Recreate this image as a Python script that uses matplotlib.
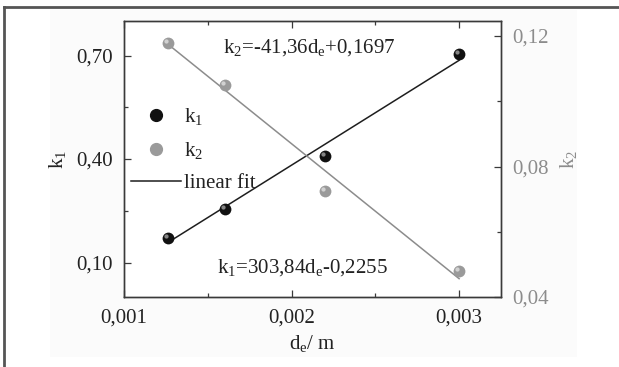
import matplotlib
matplotlib.use('Agg')
import matplotlib.pyplot as plt
import matplotlib.transforms as mtransforms
from matplotlib.lines import Line2D
from matplotlib.patches import Rectangle
from matplotlib.ticker import FuncFormatter, MultipleLocator
import numpy as np

plt.rcParams['font.family'] = ['Liberation Serif', 'DejaVu Serif']
plt.rcParams['mathtext.fontset'] = 'custom'
plt.rcParams['mathtext.rm'] = 'Liberation Serif'
plt.rcParams['mathtext.it'] = 'Liberation Serif:italic'

# data
de = [0.00126, 0.00160, 0.00220, 0.00300]
k1 = [0.172, 0.256, 0.410, 0.705]
k2 = [0.118, 0.105, 0.0726, 0.048]

# linear fit coefficients (as printed on the chart)
k1_fit = (303.84, -0.2255)
k2_fit = (-41.36, 0.1697)

TXT = '#222222'
GRAY = '#8c8c8c'
SPINE = '#3a3a3a'
FS = 15
MS = 8.5


def comma_fmt(nd):
    return FuncFormatter(lambda v, p: ('{:.%df}' % nd).format(v).replace('.', ','))


def sphere(ax, x, y, base, shine, ms):
    ax.plot(x, y, 'o', color=base, markersize=ms, markeredgewidth=0, zorder=4)
    tr = mtransforms.offset_copy(ax.transData, fig=ax.figure, x=-1.8, y=1.8, units='dots')
    ax.plot(x, y, 'o', color=shine, markersize=ms * 0.36, markeredgewidth=0,
            transform=tr, zorder=5, alpha=0.85)


fig = plt.figure(figsize=(6.19, 3.67), dpi=100)

# faint page background and cropped frame
fig.patches.append(Rectangle((50 / 619, 10 / 367), 527 / 619, 347 / 367, transform=fig.transFigure,
                             facecolor='#fbfbfb', edgecolor='none', zorder=-10))
fig.lines.append(Line2D([4 / 619, 4 / 619], [0, 1 - 7 / 367], transform=fig.transFigure,
                        color='#555555', lw=2))
fig.lines.append(Line2D([4 / 619, 1], [1 - 7 / 367, 1 - 7 / 367], transform=fig.transFigure,
                        color='#555555', lw=2))

ax = fig.add_axes([124 / 619, 70 / 367, 377 / 619, 276 / 367])
ax.set_facecolor('white')
ax2 = ax.twinx()

xs = np.array([de[0], de[-1]])
ax.plot(xs, k1_fit[0] * xs + k1_fit[1], color='#1e1e1e', lw=1.1, zorder=3)
ax2.plot(xs, k2_fit[0] * xs + k2_fit[1], color=GRAY, lw=1.1, zorder=3)

sphere(ax, de, k1, '#111111', '#9a9a9a', MS)
sphere(ax2, de, k2, '#9a9a9a', '#dcdcdc', MS)

ax.set_xlim(0.001, 0.00325)
ax.set_ylim(0.0, 0.80)
ax2.set_ylim(0.04, 0.1246)

ax.xaxis.set_major_locator(MultipleLocator(0.001))
ax.xaxis.set_minor_locator(MultipleLocator(0.0005))
ax.set_yticks([0.10, 0.40, 0.70])
ax.set_yticks([0.25, 0.55], minor=True)
ax2.set_yticks([0.04, 0.08, 0.12])
ax2.set_yticks([0.06, 0.10], minor=True)

ax.xaxis.set_major_formatter(comma_fmt(3))
ax.yaxis.set_major_formatter(comma_fmt(2))
ax2.yaxis.set_major_formatter(comma_fmt(2))

ax.tick_params(which='both', direction='in', top=True, right=False, colors=SPINE,
               labelcolor=TXT, labelsize=FS, pad=8)
ax.tick_params(which='major', length=5, width=0.9)
ax.tick_params(which='minor', length=3, width=0.9)
ax2.tick_params(which='both', direction='in', colors=SPINE, labelcolor=GRAY, labelsize=FS, pad=8)
ax2.tick_params(which='major', length=5, width=0.9)
ax2.tick_params(which='minor', length=3, width=0.9)

for a in (ax, ax2):
    for s in a.spines.values():
        s.set_color(SPINE)
        s.set_linewidth(1.0)

ax.set_xlabel(r'd$_\mathrm{e}$/ m', fontsize=FS, color=TXT, labelpad=4)
ax.set_ylabel(r'k$_1$', fontsize=FS, color=TXT, labelpad=6)
ax2.set_ylabel(r'k$_2$', fontsize=FS, color=GRAY, labelpad=7)

ax.text(0.49, 0.905, r'k$_2$=-41,36d$_\mathrm{e}$+0,1697', transform=ax.transAxes,
        ha='center', va='center', fontsize=FS, color=TXT)
ax.text(0.472, 0.105, r'k$_1$=303,84d$_\mathrm{e}$-0,2255', transform=ax.transAxes,
        ha='center', va='center', fontsize=FS, color=TXT)

handles = [Line2D([], [], ls='none', marker='o', color='#111111', markersize=MS),
           Line2D([], [], ls='none', marker='o', color='#9a9a9a', markersize=MS),
           Line2D([], [], color='#1e1e1e', lw=1.1)]
leg = ax.legend(handles, [r'k$_1$', r'k$_2$', 'linear fit'], loc='upper left',
                bbox_to_anchor=(-0.02, 0.745), frameon=False, fontsize=FS,
                handlelength=2.4, handletextpad=0.15, labelspacing=0.62, borderaxespad=0.3)
for t in leg.get_texts():
    t.set_color(TXT)

fig.savefig('out.png', dpi=100)
